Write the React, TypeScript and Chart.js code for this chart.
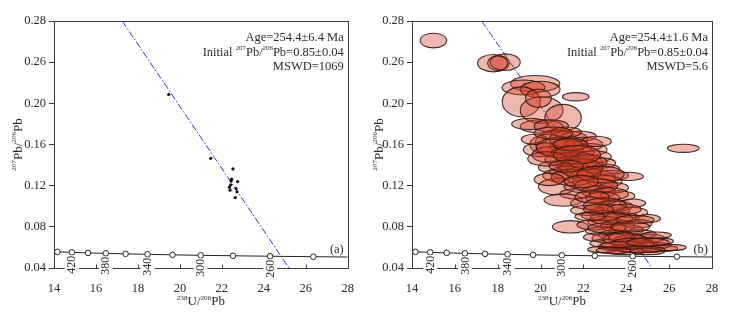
import React, { useEffect, useRef } from "react";
import { Chart, registerables } from "chart.js";

Chart.register(...registerables);

const FONT = '"Liberation Serif", "Times New Roman", serif';

// ---- axis ticks ----
const xTickValues = [14, 16, 18, 20, 22, 24, 26, 28];
const yTickValues = [0.04, 0.08, 0.12, 0.16, 0.2, 0.24, 0.28];
const yTickLabels = ["0.04", "0.08", "0.12", "0.16", "0.20", "0.26", "0.28"];

// ---- concordia curve ----
const concordiaX = [14.0, 14.16, 14.85, 15.62, 16.47, 17.41, 18.46, 19.65, 20.99, 22.53, 24.3, 26.36, 28.0];
const concordiaY = [0.05575, 0.05569, 0.05519, 0.0547, 0.05422, 0.05374, 0.05326, 0.05279, 0.05233, 0.05188, 0.05143, 0.05098, 0.05067];
const markerX = [14.16, 14.85, 15.62, 16.47, 17.41, 18.46, 19.65, 20.99, 22.53, 24.3, 26.36];
const markerY = [0.05569, 0.05519, 0.0547, 0.05422, 0.05374, 0.05326, 0.05279, 0.05233, 0.05188, 0.05143, 0.05098];
const ageLabels = ["420", "380", "340", "300", "260"];
const ageLabelX = [14.85, 16.47, 18.46, 20.99, 24.3];
const ageLabelY = [0.05519, 0.05422, 0.05326, 0.05233, 0.05143];

// ---- discordia line ----
const discordiaX = [17.25, 25.2];
const discordiaY = [0.28, 0.04];

// ---- panel (a) points ----
const dotsX = [19.47, 21.47, 22.53, 22.47, 22.75, 22.44, 22.42, 22.36, 22.39, 22.68, 22.72, 22.64];
const dotsY = [0.2087, 0.1466, 0.1363, 0.1263, 0.124, 0.1245, 0.1208, 0.1185, 0.1156, 0.1172, 0.114, 0.1084];

// ---- panel (b) error ellipses ----
const ellX = [
  15.0, 17.8, 18.35, 18.0, 19.75, 19.2, 19.98, 19.1, 20.05, 21.05,
  21.64, 20.05, 19.5, 20.5, 26.66, 19.9, 20.75, 21.06, 20.4, 21.3,
  20.0, 21.8, 22.0, 20.5, 21.5, 22.3, 19.7, 21.2, 22.6, 21.84,
  21.84, 21.6, 22.5, 22.8, 21.0, 20.6, 23.0, 22.5, 21.3, 20.8,
  23.3, 24.1, 22.0, 23.0, 20.75, 22.0, 23.4, 22.7, 21.6, 23.6,
  22.9, 21.06, 22.3, 23.5, 24.3, 23.3, 22.2, 24.2, 22.8, 23.8,
  25.0, 23.0, 21.4, 22.5, 23.6, 24.5, 24.0, 22.8, 23.5, 24.6,
  23.2, 24.2, 25.0, 23.0, 24.6, 25.3, 23.5, 24.3, 25.5, 22.9,
  24.0, 25.0, 23.8, 22.6, 25.6, 26.0,
  20.9, 21.4, 20.3, 21.9, 22.2, 21.5, 22.8, 22.6, 21.9, 23.2,
  22.4, 23.0, 23.9, 22.7, 23.3, 24.4, 23.1, 24.2, 23.9, 24.3,
  23.8, 25.0, 24.7, 23.4, 21.7, 21.2, 20.4, 22.3, 25.4, 20.6,
];
const ellY = [
  0.261, 0.239, 0.24, 0.239, 0.219, 0.2154, 0.2135, 0.2015, 0.1934, 0.186,
  0.2064, 0.1775, 0.18, 0.178, 0.1563, 0.205, 0.1612, 0.1579, 0.16, 0.165,
  0.155, 0.168, 0.16, 0.15, 0.152, 0.155, 0.165, 0.172, 0.163, 0.14,
  0.141, 0.147, 0.148, 0.142, 0.145, 0.138, 0.136, 0.126, 0.133, 0.13,
  0.13, 0.129, 0.132, 0.124, 0.119, 0.119, 0.118, 0.114, 0.112, 0.11,
  0.108, 0.106, 0.103, 0.1, 0.103, 0.0955, 0.096, 0.094, 0.091, 0.089,
  0.088, 0.085, 0.08, 0.082, 0.081, 0.083, 0.077, 0.076, 0.072, 0.073,
  0.069, 0.066, 0.069, 0.064, 0.063, 0.062, 0.061, 0.059, 0.059, 0.058,
  0.056, 0.056, 0.07, 0.07, 0.066, 0.06,
  0.157, 0.16, 0.146, 0.137, 0.143, 0.128, 0.131, 0.12, 0.124, 0.112,
  0.109, 0.101, 0.097, 0.097, 0.088, 0.087, 0.079, 0.08, 0.068, 0.064,
  0.062, 0.065, 0.058, 0.057, 0.15, 0.139, 0.126, 0.09, 0.072, 0.171,
];
const ellRx = [
  0.62, 0.74, 0.7, 0.47, 1.15, 1.0, 0.93, 0.89, 1.0, 0.85,
  0.62, 1.0, 0.85, 0.8, 0.74, 0.6, 1.0, 0.62, 0.9, 0.9,
  0.8, 0.8, 0.9, 0.9, 1.0, 0.8, 0.6, 0.7, 0.7, 1.09,
  0.78, 0.9, 0.8, 0.7, 0.8, 0.7, 0.7, 1.0, 0.9, 0.7,
  0.8, 0.7, 0.8, 0.8, 0.85, 0.9, 0.7, 0.8, 0.7, 0.8,
  0.8, 0.9, 0.9, 0.8, 0.6, 0.85, 0.8, 0.8, 0.9, 0.8,
  0.6, 0.8, 0.85, 0.8, 0.8, 0.7, 0.8, 0.7, 0.8, 0.8,
  0.8, 0.8, 0.8, 0.7, 0.9, 0.8, 0.8, 0.9, 0.9, 0.7,
  0.9, 0.8, 0.6, 0.6, 0.6, 0.8,
  1.1, 0.8, 0.9, 1.0, 0.9, 1.0, 1.1, 1.0, 0.8, 0.9,
  0.8, 1.0, 0.8, 0.7, 1.0, 0.9, 0.9, 0.9, 1.0, 1.0,
  1.0, 1.0, 1.1, 0.8, 1.1, 0.8, 0.7, 0.7, 0.7, 0.9,
];
const ellRy = [
  0.0071, 0.0084, 0.0081, 0.0071, 0.008, 0.0073, 0.008, 0.0145, 0.013, 0.013,
  0.004, 0.0065, 0.0055, 0.006, 0.004, 0.009, 0.013, 0.0065, 0.01, 0.008,
  0.007, 0.005, 0.007, 0.008, 0.007, 0.006, 0.005, 0.005, 0.005, 0.012,
  0.0073, 0.006, 0.006, 0.005, 0.006, 0.006, 0.005, 0.01, 0.006, 0.006,
  0.005, 0.004, 0.007, 0.006, 0.008, 0.006, 0.005, 0.006, 0.005, 0.005,
  0.006, 0.006, 0.006, 0.005, 0.004, 0.0065, 0.005, 0.005, 0.005, 0.005,
  0.004, 0.005, 0.006, 0.005, 0.006, 0.004, 0.005, 0.004, 0.005, 0.004,
  0.005, 0.006, 0.004, 0.004, 0.004, 0.003, 0.004, 0.004, 0.003, 0.003,
  0.003, 0.003, 0.005, 0.004, 0.003, 0.003,
  0.01, 0.006, 0.007, 0.009, 0.007, 0.008, 0.008, 0.007, 0.006, 0.006,
  0.006, 0.007, 0.005, 0.005, 0.006, 0.004, 0.005, 0.005, 0.006, 0.005,
  0.004, 0.004, 0.003, 0.003, 0.009, 0.006, 0.006, 0.004, 0.003, 0.006,
];

// ---- annotation texts ----
const ageTextA = "Age=254.4±6.4 Ma";
const ageTextB = "Age=254.4±1.6 Ma";
const initialText = "0.85±0.04";
const mswdTextA = "MSWD=1069";
const mswdTextB = "MSWD=5.6";
const panelTagA = "(a)";
const panelTagB = "(b)";

type Seg = [string, boolean];

function drawRich(ctx: CanvasRenderingContext2D, segs: Seg[], x: number, y: number, size: number, align: "left" | "center" | "right") {
  const supSize = size * 0.55;
  const widths = segs.map(([t, sup]) => {
    ctx.font = `${sup ? supSize : size}px ${FONT}`;
    return ctx.measureText(t).width;
  });
  const total = widths.reduce((a, b) => a + b, 0);
  let cx = align === "right" ? x - total : align === "center" ? x - total / 2 : x;
  ctx.textAlign = "left";
  ctx.textBaseline = "alphabetic";
  segs.forEach(([t, sup], i) => {
    ctx.font = `${sup ? supSize : size}px ${FONT}`;
    ctx.fillText(t, cx, sup ? y - size * 0.42 : y);
    cx += widths[i];
  });
}

const TEXT = "#2b2b2b";
const FRAME = "#3a3a3a";

function buildConfig(panel: "a" | "b") {
  const isA = panel === "a";
  const yWidth = isA ? 54 : 45;
  const rightPad = isA ? 17 : 22;
  const titleOffset = isA ? 37 : 34;

  const datasets: any[] = [
    {
      label: "discordia",
      data: discordiaX.map((x, i) => ({ x, y: discordiaY[i] })),
      showLine: true,
      borderColor: "#3434c0",
      borderWidth: 1,
      borderDash: [7, 2, 1.5, 2],
      pointRadius: 0,
      order: 4,
    },
    {
      label: "concordia",
      data: concordiaX.map((x, i) => ({ x, y: concordiaY[i] })),
      showLine: true,
      borderColor: "#222",
      borderWidth: 1,
      pointRadius: 0,
      order: 1,
    },
    {
      label: "ages",
      data: markerX.map((x, i) => ({ x, y: markerY[i] })),
      showLine: false,
      pointRadius: 2.8,
      pointBackgroundColor: "#fff",
      pointBorderColor: "#222",
      pointBorderWidth: 1,
      order: 0,
    },
  ];
  if (isA) {
    datasets.push({
      label: "spots",
      data: dotsX.map((x, i) => ({ x, y: dotsY[i] })),
      showLine: false,
      pointRadius: 1.6,
      pointBackgroundColor: "#111",
      pointBorderWidth: 0,
      order: 2,
    });
  } else {
    datasets.push({
      label: "ellipses",
      ellipses: true,
      data: ellX.map((x, i) => ({ x, y: ellY[i], rx: ellRx[i], ry: ellRy[i] })),
      showLine: false,
      pointRadius: 0,
      order: 3,
    });
  }

  const decoPlugin = {
    id: "deco" + panel,
    beforeDatasetsDraw(chart: any) {
      const { ctx, chartArea: a } = chart;
      ctx.save();
      ctx.strokeStyle = FRAME;
      ctx.lineWidth = 1;
      const l = Math.round(a.left), t = Math.round(a.top), r = Math.round(a.right), b = Math.round(a.bottom);
      ctx.strokeRect(l + 0.5, t + 0.5, r - l, b - t);
      ctx.restore();
    },
    afterDatasetDraw(chart: any, args: any) {
      const ds = chart.data.datasets[args.index];
      if (!ds.ellipses) return;
      const { ctx, chartArea: a } = chart;
      const xs = chart.scales.x, ys = chart.scales.y;
      ctx.save();
      ctx.beginPath();
      ctx.rect(a.left, a.top, a.right - a.left, a.bottom - a.top);
      ctx.clip();
      ds.data.forEach((p: any) => {
        const cx = xs.getPixelForValue(p.x);
        const cy = ys.getPixelForValue(p.y);
        const rxp = Math.abs(xs.getPixelForValue(p.x + p.rx) - cx);
        const ryp = Math.abs(ys.getPixelForValue(p.y + p.ry) - cy);
        ctx.beginPath();
        ctx.ellipse(cx, cy, rxp, ryp, 0, 0, Math.PI * 2);
        ctx.fillStyle = "rgba(210, 58, 32, 0.36)";
        ctx.fill();
        ctx.strokeStyle = "rgba(45, 25, 22, 0.9)";
        ctx.lineWidth = 1.1;
        ctx.stroke();
      });
      ctx.restore();
    },
    afterDraw(chart: any) {
      const { ctx, chartArea: a } = chart;
      const xs = chart.scales.x, ys = chart.scales.y;
      ctx.save();
      // inward x ticks
      ctx.strokeStyle = FRAME;
      ctx.lineWidth = 1;
      const b = Math.round(a.bottom) + 0.5;
      xTickValues.slice(1, -1).forEach((v) => {
        const px = Math.round(xs.getPixelForValue(v)) + 0.5;
        ctx.beginPath();
        ctx.moveTo(px, b);
        ctx.lineTo(px, b - 4);
        ctx.stroke();
      });
      // age labels just below their concordia markers
      ctx.font = `12px ${FONT}`;
      ageLabels.forEach((lab, i) => {
        const px = xs.getPixelForValue(ageLabelX[i]);
        const w = ctx.measureText(lab).width;
        const py = ys.getPixelForValue(ageLabelY[i]) + 3.5 + w / 2;
        ctx.save();
        ctx.translate(px, py);
        ctx.rotate(-Math.PI / 2);
        ctx.fillStyle = "#fff";
        ctx.fillRect(-w / 2, -7, w + 0.5, 14);
        ctx.fillStyle = TEXT;
        ctx.textAlign = "center";
        ctx.textBaseline = "middle";
        ctx.fillText(lab, 0, 0.5);
        ctx.restore();
      });
      ctx.fillStyle = TEXT;
      // annotation
      const rx = a.right - 4;
      drawRich(ctx, [[isA ? ageTextA : ageTextB, false]], rx, a.top + 19.5, 12.5, "right");
      drawRich(ctx, [["Initial ", false], ["207", true], ["Pb/", false], ["206", true], ["Pb=" + initialText, false]], rx, a.top + 34.5, 12.5, "right");
      drawRich(ctx, [[isA ? mswdTextA : mswdTextB, false]], rx, a.top + 49, 12.5, "right");
      // panel tag
      drawRich(ctx, [[isA ? panelTagA : panelTagB, false]], rx, a.bottom - 15.5, 12.5, "right");
      // x title
      drawRich(ctx, [["238", true], ["U/", false], ["206", true], ["Pb", false]], (a.left + a.right) / 2, a.bottom + 37, 13, "center");
      // y title
      ctx.save();
      ctx.translate(a.left - titleOffset, (a.top + a.bottom) / 2);
      ctx.rotate(-Math.PI / 2);
      drawRich(ctx, [["207", true], ["Pb/", false], ["206", true], ["Pb", false]], 0, 4.5, 13, "center");
      ctx.restore();
      ctx.restore();
    },
  };

  return {
    type: "scatter" as const,
    data: { datasets },
    plugins: [decoPlugin],
    options: {
      responsive: false,
      animation: false as const,
      devicePixelRatio: 1,
      layout: { padding: { top: 21, right: rightPad, left: 0, bottom: 0 } },
      plugins: {
        legend: { display: false },
        tooltip: { enabled: false },
        title: { display: false },
      },
      scales: {
        x: {
          type: "linear" as const,
          min: 14,
          max: 28,
          afterBuildTicks: (s: any) => {
            s.ticks = xTickValues.map((v) => ({ value: v }));
          },
          afterFit: (s: any) => {
            s.height = 50;
          },
          ticks: {
            font: { family: FONT, size: 12.5 },
            color: TEXT,
            padding: 13,
            maxRotation: 0,
            autoSkip: false,
            callback: (v: any) => String(v),
          },
          grid: { drawOnChartArea: false, drawTicks: false },
          border: { display: false },
        },
        y: {
          type: "linear" as const,
          min: 0.04,
          max: 0.28,
          afterBuildTicks: (s: any) => {
            s.ticks = yTickValues.map((v) => ({ value: v }));
          },
          afterFit: (s: any) => {
            s.width = yWidth;
          },
          ticks: {
            font: { family: FONT, size: 12.5 },
            color: TEXT,
            padding: 3,
            autoSkip: false,
            callback: (v: any) => {
              const idx = yTickValues.findIndex((t) => Math.abs(t - v) < 1e-9);
              return idx >= 0 ? yTickLabels[idx] : "";
            },
          },
          grid: { drawOnChartArea: false, drawTicks: true, tickLength: 5, color: FRAME },
          border: { display: false },
        },
      },
    },
  };
}

function Panel({ panel }: { panel: "a" | "b" }) {
  const ref = useRef<HTMLCanvasElement>(null);
  useEffect(() => {
    const chart = new Chart(ref.current as HTMLCanvasElement, buildConfig(panel) as any);
    return () => chart.destroy();
  }, [panel]);
  return (
    <canvas
      ref={ref}
      width={367}
      height={318}
      style={{ position: "absolute", left: panel === "a" ? 0 : 367, top: 0, width: 367, height: 318 }}
    />
  );
}

export default function App() {
  return (
    <div style={{ position: "fixed", left: 0, top: 0, width: 734, height: 318, background: "#fff" }}>
      <Panel panel="a" />
      <Panel panel="b" />
    </div>
  );
}
